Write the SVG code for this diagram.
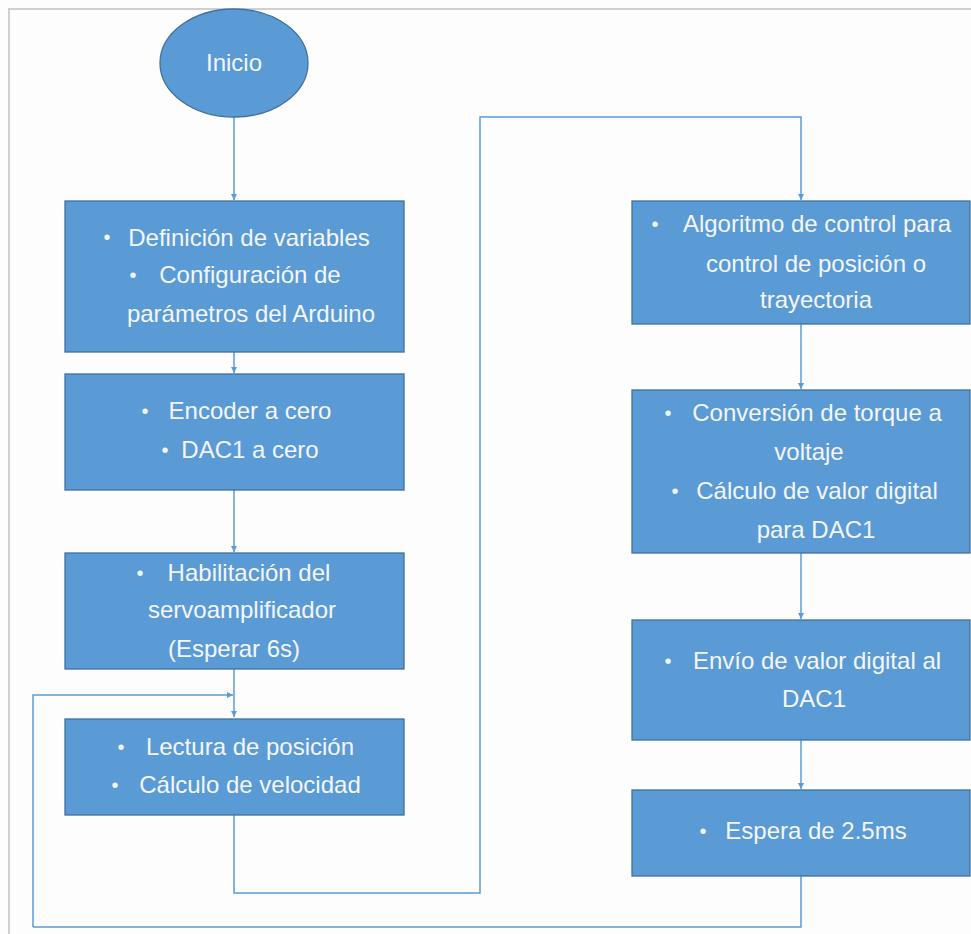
<svg xmlns="http://www.w3.org/2000/svg" width="971" height="934" viewBox="0 0 971 934">
<defs>
<style>
.box{fill:#5b9bd5;stroke:#41719c;stroke-width:1.3}
.t{font-family:"Liberation Sans",Arial,sans-serif;font-size:24px;fill:#f4f6fa;text-anchor:middle}
.b{font-family:"Liberation Sans",Arial,sans-serif;font-size:20px;fill:#f4f6fa;text-anchor:middle}
.c{fill:none;stroke:#5b9bd5;stroke-width:1.5}
</style>
<marker id="ah" viewBox="0 0 10 10" refX="10" refY="5" markerWidth="6" markerHeight="6" orient="auto-start-reverse" markerUnits="userSpaceOnUse">
<path d="M0,0 L10,5 L0,10 z" fill="#5b9bd5"/>
</marker>
</defs>
<rect x="0" y="0" width="971" height="934" fill="#fdfdfd"/>
<path d="M9,934 V9 H971" fill="none" stroke="#cfcfcf" stroke-width="2"/>
<g id="connectors">
<path class="c" d="M234,117 V200" marker-end="url(#ah)"/>
<path class="c" d="M234,352 V373" marker-end="url(#ah)"/>
<path class="c" d="M234,490 V552" marker-end="url(#ah)"/>
<path class="c" d="M234,669 V717" marker-end="url(#ah)"/>
<path class="c" d="M33,927 V695 H233" marker-end="url(#ah)"/>
<path class="c" d="M234,815 V893 H480 V117 H801 V200" marker-end="url(#ah)"/>
<path class="c" d="M801,324 V389" marker-end="url(#ah)"/>
<path class="c" d="M801,553 V619" marker-end="url(#ah)"/>
<path class="c" d="M801,740 V789" marker-end="url(#ah)"/>
<path class="c" d="M801,876 V927 H33"/>
</g>
<g id="inicio">
<ellipse cx="234" cy="63" rx="74" ry="54" class="box"/>
<text class="t" x="234" y="71">Inicio</text>
</g>
<g id="n1">
<rect class="box" x="65" y="201" width="339" height="151"/>
<text class="b" x="107" y="244">•</text>
<text class="t" x="249" y="246">Definición de variables</text>
<text class="b" x="133" y="282">•</text>
<text class="t" x="250" y="283">Configuración de</text>
<text class="t" x="251" y="322">parámetros del Arduino</text>
</g>
<g id="n2">
<rect class="box" x="65" y="374" width="339" height="116"/>
<text class="b" x="145" y="418">•</text>
<text class="t" x="250" y="419">Encoder a cero</text>
<text class="b" x="165" y="457">•</text>
<text class="t" x="250" y="458">DAC1 a cero</text>
</g>
<g id="n3">
<rect class="box" x="65" y="553" width="339" height="116"/>
<text class="b" x="140" y="580">•</text>
<text class="t" x="249" y="581">Habilitación del</text>
<text class="t" x="242" y="618">servoamplificador</text>
<text class="t" x="234" y="657">(Esperar 6s)</text>
</g>
<g id="n4">
<rect class="box" x="65" y="719" width="339" height="96"/>
<text class="b" x="121" y="754">•</text>
<text class="t" x="250" y="755">Lectura de posición</text>
<text class="b" x="115" y="792">•</text>
<text class="t" x="250" y="793">Cálculo de velocidad</text>
</g>
<g id="n5">
<rect class="box" x="632" y="201" width="338" height="123"/>
<text class="b" x="655" y="231">•</text>
<text class="t" x="817" y="232">Algoritmo de control para</text>
<text class="t" x="816" y="272">control de posición o</text>
<text class="t" x="816" y="308">trayectoria</text>
</g>
<g id="n6">
<rect class="box" x="632" y="390" width="338" height="163"/>
<text class="b" x="668" y="420">•</text>
<text class="t" x="817" y="421">Conversión de torque a</text>
<text class="t" x="809" y="460">voltaje</text>
<text class="b" x="675" y="498">•</text>
<text class="t" x="817" y="499">Cálculo de valor digital</text>
<text class="t" x="816" y="538">para DAC1</text>
</g>
<g id="n7">
<rect class="box" x="632" y="620" width="338" height="120"/>
<text class="b" x="668" y="668">•</text>
<text class="t" x="817" y="669">Envío de valor digital al</text>
<text class="t" x="814" y="707">DAC1</text>
</g>
<g id="n8">
<rect class="box" x="632" y="790" width="338" height="86"/>
<text class="b" x="703" y="838">•</text>
<text class="t" x="816" y="839">Espera de 2.5ms</text>
</g>
</svg>
